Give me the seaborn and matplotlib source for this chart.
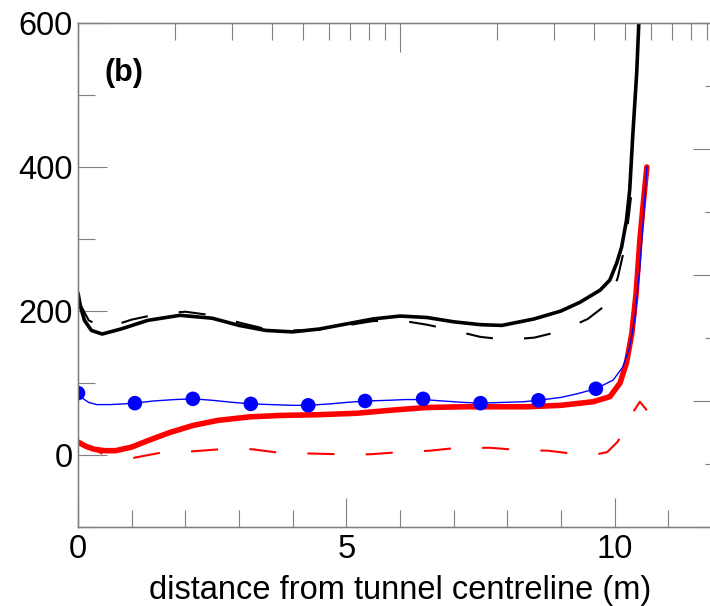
import numpy as np
import pandas as pd
import matplotlib
matplotlib.use("Agg")
import matplotlib.pyplot as plt
import seaborn as sns
from matplotlib.ticker import MultipleLocator, FixedLocator, NullFormatter, LogLocator

# ---------------- data ----------------
black_solid_x = [0.0, 0.05, 0.12, 0.25, 0.45, 0.8, 1.3, 1.9, 2.5, 3.0, 3.5, 4.0, 4.5, 5.0, 5.5, 6.0,
                 6.5, 7.0, 7.5, 7.9, 8.5, 9.0, 9.35, 9.73, 9.91, 10.04, 10.13, 10.22, 10.28,
                 10.34, 10.41, 10.45]
black_solid_y = [225, 205, 187, 173, 168, 175, 187, 194, 190, 180, 173, 171, 175, 182, 189, 193,
                 191, 185, 181, 180, 189, 200, 212, 229, 243, 267, 289, 326, 368,
                 447, 530, 600]

black_dash_x = [0.0, 0.2, 0.5, 1.0, 1.5, 2.0, 2.5, 3.0, 3.5, 4.0, 4.5, 5.0, 5.5, 6.0, 6.5,
                7.0, 7.5, 8.0, 8.5, 9.0, 9.5, 9.9, 10.06, 10.19, 10.26, 10.33]
black_dash_y = [215, 187, 176, 188, 196, 199, 194, 184, 175, 173, 174, 180, 186, 187, 181,
                173, 164, 160, 163, 172, 189, 212, 247, 290, 330, 375]

blue_line_x = [0.0, 0.1, 0.2, 0.35, 0.6, 0.85, 1.06, 1.4, 1.8, 2.14, 2.5, 2.9, 3.22, 3.6, 4.0,
               4.29, 4.7, 5.0, 5.35, 5.8, 6.1, 6.43, 6.8, 7.2, 7.5, 7.9, 8.3, 8.58, 9.0, 9.3,
               9.65, 9.97, 10.15, 10.28, 10.38, 10.47, 10.56, 10.6]
blue_line_y = [86, 78, 73, 70, 70, 71, 72, 75, 77, 78, 76, 73, 71, 70, 69,
               69, 71, 73, 75, 76, 77, 77, 75, 73, 72, 73, 74, 76, 80, 85,
               92, 104, 122, 150, 192, 261, 354, 400]

blue_mark_x = [0.0, 1.06, 2.14, 3.22, 4.29, 5.35, 6.43, 7.5, 8.58, 9.65]
blue_mark_y = [86, 72, 78, 71, 69, 75, 78, 72, 76, 92]

red_solid_x = [0.0, 0.15, 0.3, 0.5, 0.7, 1.0, 1.34, 1.7, 2.14, 2.6, 3.2, 3.8, 4.5, 5.2, 5.8,
               6.5, 7.2, 7.8, 8.37, 9.0, 9.6, 9.91, 10.1, 10.22, 10.32, 10.4, 10.47, 10.55, 10.6]
red_solid_y = [18, 12, 8, 6, 6, 11, 21, 31, 41, 48, 53, 55, 56, 58, 62,
               66, 67, 67, 67, 69, 74, 81, 100, 128, 169, 225, 299, 363, 400]

red_dash_x = [0.0, 0.25, 0.45, 0.7, 1.03, 1.53, 2.12, 2.65, 3.24, 3.76, 4.36, 4.88, 5.44, 6.0,
              6.56, 7.08, 7.68, 8.2, 8.76, 9.3, 9.6, 9.86, 10.05, 10.19, 10.33, 10.47, 10.6]
red_dash_y = [18, 9, 2, -3, -4, 3, 5, 8, 8, 3, 2, 1, 1, 4,
              6, 10, 10, 7, 6, 1, 0, 4, 18, 35, 58, 74, 62]

x_ticks = [0, 5, 10]
y_ticks = [0, 200, 400, 600]
x_label = "distance from tunnel centreline (m)"
panel_label = "(b)"

# ---------------- style ----------------
sns.set_style("ticks")
plt.rcParams['font.family'] = ['Liberation Sans', 'DejaVu Sans']
GRAY = '#808080'

W, H = 710, 606
fig = plt.figure(figsize=(W / 100, H / 100), dpi=100)
ax = fig.add_axes([78 / W, (H - 527) / H, 644 / W, 504 / H])

sns.lineplot(x=black_dash_x, y=black_dash_y, ax=ax, color='black', linewidth=1.5,
             linestyle=(0, (13, 15)), estimator=None, sort=False)
sns.lineplot(x=black_solid_x, y=black_solid_y, ax=ax, color='black', linewidth=2.6,
             estimator=None, sort=False)
sns.lineplot(x=red_dash_x, y=red_dash_y, ax=ax, color='#ff0000', linewidth=1.5,
             linestyle=(0, (13, 15)), estimator=None, sort=False)
sns.lineplot(x=red_solid_x, y=red_solid_y, ax=ax, color='#ff0000', linewidth=4.0,
             estimator=None, sort=False)
sns.lineplot(x=blue_line_x, y=blue_line_y, ax=ax, color='#0000ff', linewidth=1.0,
             estimator=None, sort=False)
sns.scatterplot(x=blue_mark_x, y=blue_mark_y, ax=ax, color='#0000ff', s=110,
                edgecolor='none', zorder=5)

ax.set_xlim(0, 12)
ax.set_ylim(-100, 600)
ax.xaxis.set_major_locator(FixedLocator(x_ticks))
ax.xaxis.set_minor_locator(MultipleLocator(1))
ax.yaxis.set_major_locator(FixedLocator(y_ticks))
ax.yaxis.set_minor_locator(MultipleLocator(100))
ax.tick_params(axis='both', which='major', direction='in', length=21, width=0.8,
               color=GRAY, labelsize=23.5, labelcolor='black', pad=5)
ax.tick_params(axis='y', which='major', pad=4)
ax.tick_params(axis='both', which='minor', direction='in', length=12, width=0.8, color=GRAY)
ax.tick_params(top=False, right=False, which='both')
ax.set_xlabel(x_label, fontsize=23.5, labelpad=7, color='black')
ax.set_ylabel("")
for s in ax.spines.values():
    s.set_color(GRAY)
    s.set_linewidth(1.0)

# top log axis (no labels)
axt = ax.twiny()
axt.set_xscale('log')
axt.set_xlim(1, 100)
axt.xaxis.set_major_locator(LogLocator(base=10))
axt.xaxis.set_minor_locator(LogLocator(base=10, subs=np.arange(2, 10)))
axt.xaxis.set_major_formatter(NullFormatter())
axt.xaxis.set_minor_formatter(NullFormatter())
axt.tick_params(axis='x', which='major', direction='in', length=21, width=0.8, color=GRAY)
axt.tick_params(axis='x', which='minor', direction='in', length=12, width=0.8, color=GRAY)
for s in axt.spines.values():
    s.set_color(GRAY)

# right axis (no labels)
axr = ax.twinx()
axr.set_ylim(0, 8)
axr.yaxis.set_major_locator(FixedLocator([0, 2, 4, 6, 8]))
axr.yaxis.set_minor_locator(MultipleLocator(1))
axr.yaxis.set_major_formatter(NullFormatter())
axr.tick_params(axis='y', which='major', direction='in', length=21, width=0.8, color=GRAY)
axr.tick_params(axis='y', which='minor', direction='in', length=12, width=0.8, color=GRAY)
for s in axr.spines.values():
    s.set_color(GRAY)

ax.text(0.5, 531, panel_label, fontsize=22, fontweight='bold', color='black',
        ha='left', va='center')

fig.savefig("out.png", dpi=100)
